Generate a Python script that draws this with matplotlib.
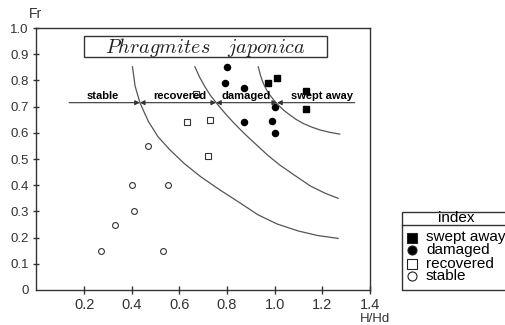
import matplotlib.pyplot as plt
from matplotlib.patches import Rectangle
from matplotlib.lines import Line2D

plt.rcParams['font.family'] = ['Liberation Sans', 'DejaVu Sans']
plt.rcParams['mathtext.fontset'] = 'cm'

# =========================
# DATOS
# =========================
stable_x = [0.27, 0.33, 0.40, 0.41, 0.47, 0.53, 0.55]
stable_y = [0.15, 0.25, 0.40, 0.30, 0.55, 0.15, 0.40]

recovered_x = [0.63, 0.67, 0.72, 0.73]
recovered_y = [0.64, 0.75, 0.51, 0.65]

damaged_x = [0.79, 0.80, 0.87, 0.87, 0.99, 1.00, 1.00]
damaged_y = [0.79, 0.85, 0.77, 0.64, 0.645, 0.70, 0.60]

swept_x = [0.97, 1.01, 1.13, 1.13]
swept_y = [0.79, 0.81, 0.76, 0.69]

# curvas limite
curve1_x = [0.403, 0.414, 0.435, 0.47, 0.51, 0.56, 0.62, 0.69, 0.77, 0.85, 0.93, 1.01, 1.10, 1.18, 1.266]
curve1_y = [0.852, 0.778, 0.713, 0.643, 0.585, 0.535, 0.483, 0.432, 0.382, 0.335, 0.287, 0.252, 0.225, 0.208, 0.197]
curve2_x = [0.665, 0.685, 0.707, 0.73, 0.756, 0.79, 0.83, 0.875, 0.92, 0.97, 1.02, 1.08, 1.15, 1.21, 1.266]
curve2_y = [0.852, 0.812, 0.776, 0.743, 0.713, 0.676, 0.636, 0.595, 0.557, 0.515, 0.478, 0.44, 0.397, 0.37, 0.35]
curve3_x = [0.931, 0.94, 0.952, 0.965, 0.98, 0.997, 1.015, 1.038, 1.064, 1.09, 1.119, 1.155, 1.19, 1.23, 1.273]
curve3_y = [0.852, 0.82, 0.789, 0.765, 0.744, 0.724, 0.706, 0.686, 0.668, 0.651, 0.636, 0.622, 0.611, 0.602, 0.595]

# flechas de zonas
arrow_y = 0.715
limits = [0.137, 0.434, 0.754, 1.01, 1.336]
zone_labels = ["stable", "recovered", "damaged", "swept away"]
zone_label_x = [0.278, 0.603, 0.879, 1.197]

x_ticks = [0.2, 0.4, 0.6, 0.8, 1.0, 1.2, 1.4]
y_ticks = [0, 0.1, 0.2, 0.3, 0.4, 0.5, 0.6, 0.7, 0.8, 0.9, 1.0]

# =========================
# GRAFICO
# =========================
fig = plt.figure(figsize=(5.06, 3.25), dpi=100)
ax = fig.add_axes([0.0721, 0.1077, 0.6591, 0.8061])

ax.plot(stable_x, stable_y, "o", ms=4.2, mfc="white", mec="#333333", mew=0.8, ls="none")
ax.plot(recovered_x, recovered_y, "s", ms=4.6, mfc="white", mec="#333333", mew=0.8, ls="none")
ax.plot(damaged_x, damaged_y, "o", ms=4.4, color="black", ls="none")
ax.plot(swept_x, swept_y, "s", ms=4.6, color="black", ls="none")

for cx, cy in [(curve1_x, curve1_y), (curve2_x, curve2_y), (curve3_x, curve3_y)]:
    ax.plot(cx, cy, color="#555555", lw=0.9)

# flechas
arrow_kw = dict(color="#333333", lw=0.8, shrinkA=0, shrinkB=0, mutation_scale=7)
ax.annotate("", xy=(limits[1], arrow_y), xytext=(limits[0], arrow_y),
            arrowprops=dict(arrowstyle="-|>", **arrow_kw))
ax.annotate("", xy=(limits[2], arrow_y), xytext=(limits[1], arrow_y),
            arrowprops=dict(arrowstyle="<|-|>", **arrow_kw))
ax.annotate("", xy=(limits[3], arrow_y), xytext=(limits[2], arrow_y),
            arrowprops=dict(arrowstyle="<|-|>", **arrow_kw))
ax.annotate("", xy=(limits[3], arrow_y), xytext=(limits[4], arrow_y),
            arrowprops=dict(arrowstyle="-|>", **arrow_kw))

for lab, lx in zip(zone_labels, zone_label_x):
    ax.text(lx, arrow_y + 0.006, lab, fontsize=8, fontweight="bold",
            ha="center", va="bottom", color="black")

# titulo en recuadro
ax.add_patch(Rectangle((0.143, 0.889), 0.728, 0.080, transform=ax.transAxes,
                       fill=False, ec="#333333", lw=1))
ax.text(0.507, 0.927, r"$\mathit{Phragmites\ \ \ japonica}$", transform=ax.transAxes,
        fontsize=14.5, ha="center", va="center", color="#222222")

ax.set_xlim(0, 1.4)
ax.set_ylim(0, 1.0)
ax.set_xticks(x_ticks)
ax.set_xticklabels([f"{v:.1f}" for v in x_ticks], fontsize=10.5)
ax.set_yticks(y_ticks)
ax.set_yticklabels(["0"] + [f"{v:.1f}" for v in y_ticks[1:]], fontsize=9.5)
ax.tick_params(axis="x", direction="inout", length=6, width=1, pad=3, colors="#333333")
ax.tick_params(axis="y", direction="inout", length=5, width=1, pad=3, colors="#333333")
ax.yaxis.get_major_ticks()[0].tick1line.set_visible(False)

for spine in ax.spines.values():
    spine.set_color("#333333")
    spine.set_linewidth(1)

fig.text(35 / 506, 1 - 14 / 325, "Fr", fontsize=10, ha="center", va="center", color="#333333")
fig.text(375 / 506, 1 - 313 / 325, "H/Hd", fontsize=9.5, ha="center", va="top", color="#333333")

# =========================
# LEYENDA (manual)
# =========================
def fx(px):
    return px / 506

def fy(py):
    return 1 - py / 325

fig.add_artist(Rectangle((fx(402), fy(290)), fx(130), 78 / 325, transform=fig.transFigure,
                         fill=False, ec="#333333", lw=1))
fig.add_artist(Line2D([fx(402), fx(520)], [fy(225), fy(225)], transform=fig.transFigure,
                      color="#333333", lw=1))
fig.text(fx(456), fy(218), "index", fontsize=11, ha="center", va="center")

leg_labels = ["swept away", "damaged", "recovered", "stable"]
leg_style = [("s", "black"), ("o", "black"), ("s", "white"), ("o", "white")]
leg_y = [237.5, 250, 263.5, 276]
for lab, (mk, fc), py in zip(leg_labels, leg_style, leg_y):
    fig.add_artist(Line2D([fx(412)], [fy(py)], transform=fig.transFigure, marker=mk,
                          ms=6.5, mfc=fc, mec="#222222", mew=0.8, ls="none"))
    fig.text(fx(426), fy(py), lab, fontsize=11, ha="left", va="center")

fig.savefig("out.png", dpi=100)
